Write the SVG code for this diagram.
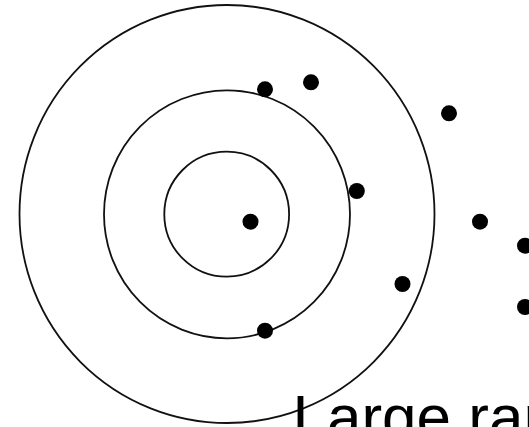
<svg xmlns="http://www.w3.org/2000/svg" width="529" height="427" viewBox="0 0 529 427">
<style>
.ring{fill:none;stroke:#111;stroke-width:1.8}
.dot{fill:#000}
.lbl{font-family:"Liberation Sans",Arial,sans-serif;font-size:62px;fill:#000}
</style>
<rect width="529" height="427" fill="#fff"/>
<g id="rings">
<ellipse class="ring" cx="227" cy="214" rx="207.5" ry="209"/>
<ellipse class="ring" cx="227" cy="214.3" rx="123" ry="124"/>
<ellipse class="ring" cx="226.7" cy="214.2" rx="62.4" ry="62.5"/>
</g>
<g id="points">
<circle class="dot" cx="265" cy="89.3" r="8"/>
<circle class="dot" cx="311" cy="82.3" r="8"/>
<circle class="dot" cx="449" cy="113.3" r="8"/>
<circle class="dot" cx="356.8" cy="191" r="8"/>
<circle class="dot" cx="250.5" cy="221.7" r="8"/>
<circle class="dot" cx="480" cy="221.7" r="8"/>
<circle class="dot" cx="525" cy="245.7" r="8"/>
<circle class="dot" cx="402.5" cy="284" r="8"/>
<circle class="dot" cx="525" cy="307" r="8"/>
<circle class="dot" cx="265" cy="330.7" r="8"/>
</g>
<text class="lbl" x="292.5" y="438">Large range</text>
</svg>
